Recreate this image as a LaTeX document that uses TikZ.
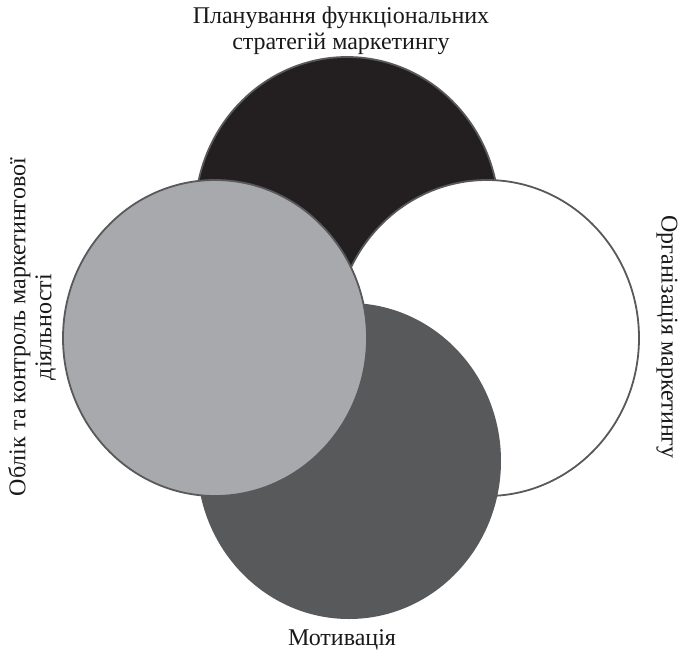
\documentclass[tikz,border=0pt]{standalone}
\usepackage{fontspec}
\setmainfont{Liberation Serif}
\usetikzlibrary{shapes.geometric}
\definecolor{cblack}{HTML}{231F20}
\definecolor{cdark}{HTML}{58595B}
\definecolor{clight}{HTML}{A7A9AC}
\definecolor{cedge}{HTML}{58595B}
\tikzset{
  blob/.style={ellipse, inner sep=0pt, minimum width=304pt, minimum height=316pt},
  rim/.style={draw=cedge, line width=1.8pt},
  lbl/.style={font=\fontsize{24}{26}\selectfont, align=center, inner sep=0pt, text=black!90}
}
\begin{document}
\begin{tikzpicture}[x=1pt,y=-1pt]
\useasboundingbox (0,0) rectangle (683,654);
\node[blob, rim, fill=cblack] (plan) at (347,215) {};
\node[blob, rim, fill=white] (org) at (487,338) {};
\node[blob, fill=cdark] (mot) at (349,461) {};
\node[blob, rim, fill=clight] (acc) at (215,338) {};
\node[lbl] (tplan) at (341,31) {Планування функціональних\\стратегій маркетингу};
\node[lbl, rotate=-90] (torg) at (667,337) {Організація маркетингу};
\node[lbl, rotate=90] (tacc) at (32,327) {Облік та контроль маркетингової\\діяльності};
\node[lbl] (tmot) at (342,640) {Мотивація};
\end{tikzpicture}
\end{document}
